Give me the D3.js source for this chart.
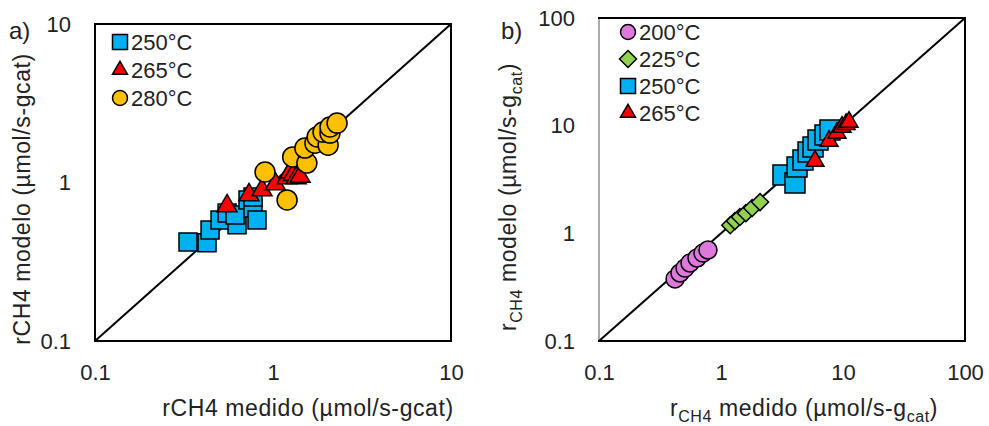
<!DOCTYPE html>
<html>
<head>
<meta charset="utf-8">
<script src="https://cdn.jsdelivr.net/npm/d3@7"></script>
<style>
  body { margin: 0; background: #fff; }
  svg text { font-family: "Liberation Sans", Arial, sans-serif; fill: #222; }
</style>
</head>
<body>
<svg width="989" height="426"></svg>
<script>
/* chart a) : 250 / 265 / 280 °C */
var aSquares = [[0.333,0.422],[0.426,0.416],[0.443,0.501],[0.504,0.580],[0.552,0.642],
                [0.628,0.541],[0.612,0.623],[0.724,0.776],[0.772,0.690],[0.813,0.580],[0.772,0.811]];
var aTriangles = [[0.552,0.711],[0.733,0.834],[0.867,0.896],[1.03,0.978],[1.2,1.067],
                  [1.25,1.165],[1.3,1.12],[1.35,1.067],[1.42,1.09]];
var aCircles = [[0.902,1.165],[1.2,0.776],[1.29,1.449],[1.55,1.327],[1.51,1.65],[1.72,1.77],
                [1.77,1.94],[2.04,1.72],[1.91,2.08],[2.09,2.05],[2.09,2.24],[2.29,2.37]];
var aTicks = [0.1, 1, 10];
var aLegend = ["250°C", "265°C", "280°C"];

/* chart b) : 200 / 225 / 250 / 265 °C */
var bCircles = [[0.42,0.377],[0.461,0.428],[0.507,0.476],[0.557,0.53],[0.636,0.59],[0.712,0.656],[0.782,0.70]];
var bDiamonds = [[1.19,1.19],[1.30,1.30],[1.43,1.42],[1.60,1.54],[1.80,1.72],[2.09,1.95]];
var bSquares = [[3.22,3.48],[4.04,2.93],[4.20,4.13],[4.70,4.80],[5.17,5.69],[5.68,6.33],
                [6.24,7.35],[7.12,8.18],[7.82,9.1]];
var bTriangles = [[5.89,4.69],[7.68,7.19],[8.93,8.54],[9.81,9.7],[10.6,10.3],[11.2,10.8]];
var bTicks = [0.1, 1, 10, 100];
var bLegend = ["200°C", "225°C", "250°C", "265°C"];

var blue = "#00b0f0", red = "#ff0000", orange = "#ffc000", purple = "#de78dc", green = "#92d050";

var svg = d3.select("svg");
var fmt = d3.format("~g");

function shape(kind, size) {
  if (kind === "square") return d3.symbol(d3.symbolSquare, size * size)();
  if (kind === "diamond") return d3.symbol(d3.symbolSquare, size * size / 2)();
  if (kind === "triangle") return d3.symbol(d3.symbolTriangle, Math.sqrt(3) / 4 * size * size)();
  return d3.symbol(d3.symbolCircle, Math.PI * size * size / 4)();
}

function panel(opt) {
  var x = d3.scaleLog().domain(opt.domain).range([opt.left, opt.right]);
  var y = d3.scaleLog().domain(opt.domain).range([opt.bottom, opt.top]);
  var g = svg.append("g");

  // tick labels only, no tick marks
  g.append("g")
    .attr("transform", "translate(0," + opt.bottom + ")")
    .call(d3.axisBottom(x).tickValues(opt.ticks).tickSize(0).tickPadding(23).tickFormat(fmt))
    .call(a => a.select(".domain").remove())
    .selectAll("text").style("font-size", "22px").attr("fill", "#222");

  g.append("g")
    .attr("transform", "translate(" + opt.left + ",0)")
    .call(d3.axisLeft(y).tickValues(opt.ticks).tickSize(0).tickPadding(24).tickFormat(fmt))
    .call(a => a.select(".domain").remove())
    .selectAll("text").style("font-size", "22px").attr("fill", "#222");

  // frame
  g.append("rect")
    .attr("x", opt.left).attr("y", opt.top)
    .attr("width", opt.right - opt.left).attr("height", opt.bottom - opt.top)
    .attr("fill", "none").attr("stroke", "#000").attr("stroke-width", 2);
  if (opt.greyLeft) {
    g.append("line")
      .attr("x1", opt.left).attr("x2", opt.left).attr("y1", opt.top + 1).attr("y2", opt.bottom - 1)
      .attr("stroke", "#aaa").attr("stroke-width", 2);
  }

  // 1:1 line
  g.append("line")
    .attr("x1", x(opt.domain[0])).attr("y1", y(opt.domain[0]))
    .attr("x2", x(opt.domain[1])).attr("y2", y(opt.domain[1]))
    .attr("stroke", "#000").attr("stroke-width", 2);

  opt.series.forEach(function(s) {
    g.append("g")
      .selectAll("path")
      .data(s.data)
      .enter()
      .append("path")
        .attr("d", shape(s.kind, s.size))
        .attr("transform", d => "translate(" + x(d[0]) + "," + y(d[1]) + ")" + (s.kind === "diamond" ? " rotate(45)" : ""))
        .attr("fill", s.color)
        .attr("stroke", "#000")
        .attr("stroke-width", 1.5);
  });

  // legend
  var leg = g.append("g");
  opt.legend.forEach(function(label, i) {
    var s = opt.legendSeries[i];
    var ly = opt.legendY + i * opt.legendStep;
    leg.append("path")
      .attr("d", shape(s.kind, s.kind === "diamond" ? 17 : 15))
      .attr("transform", "translate(" + opt.legendX + "," + ly + ")" + (s.kind === "diamond" ? " rotate(45)" : ""))
      .attr("fill", s.color).attr("stroke", "#000").attr("stroke-width", 1.5);
    leg.append("text")
      .text(label)
      .attr("x", opt.legendX + 11)
      .attr("y", ly)
      .attr("dy", "0.36em")
      .style("font-size", "22px");
  });

  svg.append("text")
    .text(opt.tag)
    .attr("x", opt.tagX).attr("y", 39)
    .style("font-size", "24px");

  return { x: x, y: y };
}

var sq = {kind: "square", color: blue}, tri = {kind: "triangle", color: red},
    cir = {kind: "circle", color: orange};

panel({
  left: 95, right: 451, top: 24, bottom: 341, domain: [0.1, 10], ticks: aTicks,
  series: [
    {data: aSquares, kind: "square", color: blue, size: 18},
    {data: aTriangles, kind: "triangle", color: red, size: 20},
    {data: aCircles, kind: "circle", color: orange, size: 20}
  ],
  legend: aLegend, legendSeries: [sq, tri, cir],
  legendX: 120, legendY: 42, legendStep: 28,
  tag: "a)", tagX: 9
});

panel({
  left: 599, right: 965, top: 18, bottom: 341, domain: [0.1, 100], ticks: bTicks, greyLeft: true,
  series: [
    {data: bCircles, kind: "circle", color: purple, size: 18},
    {data: bDiamonds, kind: "diamond", color: green, size: 17},
    {data: bSquares, kind: "square", color: blue, size: 20},
    {data: bTriangles, kind: "triangle", color: red, size: 18}
  ],
  legend: bLegend, legendSeries: [{kind: "circle", color: purple}, {kind: "diamond", color: green}, sq, tri],
  legendX: 628, legendY: 32, legendStep: 27,
  tag: "b)", tagX: 501
});

// axis titles
svg.append("text")
  .text("rCH4 medido (µmol/s-gcat)")
  .attr("x", 308).attr("y", 416)
  .style("text-anchor", "middle")
  .style("font-size", "23px")
  .style("letter-spacing", "0.6px");

svg.append("text")
  .attr("transform", "translate(30,199) rotate(-90)")
  .text("rCH4 modelo (µmol/s-gcat)")
  .style("text-anchor", "middle")
  .style("font-size", "23px")
  .style("letter-spacing", "0.6px");

var bx = svg.append("text")
  .attr("x", 804).attr("y", 416)
  .style("text-anchor", "middle")
  .style("font-size", "23px")
  .style("letter-spacing", "0.6px");
bx.append("tspan").text("r");
bx.append("tspan").text("CH4").attr("dy", 6).style("font-size", "16px");
bx.append("tspan").text(" medido (µmol/s-g").attr("dy", -6);
bx.append("tspan").text("cat").attr("dy", 6).style("font-size", "16px");
bx.append("tspan").text(")").attr("dy", -6);

var by = svg.append("text")
  .attr("transform", "translate(516,197) rotate(-90)")
  .style("text-anchor", "middle")
  .style("font-size", "23px")
  .style("letter-spacing", "0.6px");
by.append("tspan").text("r");
by.append("tspan").text("CH4").attr("dy", 6).style("font-size", "16px");
by.append("tspan").text(" modelo (µmol/s-g").attr("dy", -6);
by.append("tspan").text("cat").attr("dy", 6).style("font-size", "16px");
by.append("tspan").text(")").attr("dy", -6);
</script>
</body>
</html>
